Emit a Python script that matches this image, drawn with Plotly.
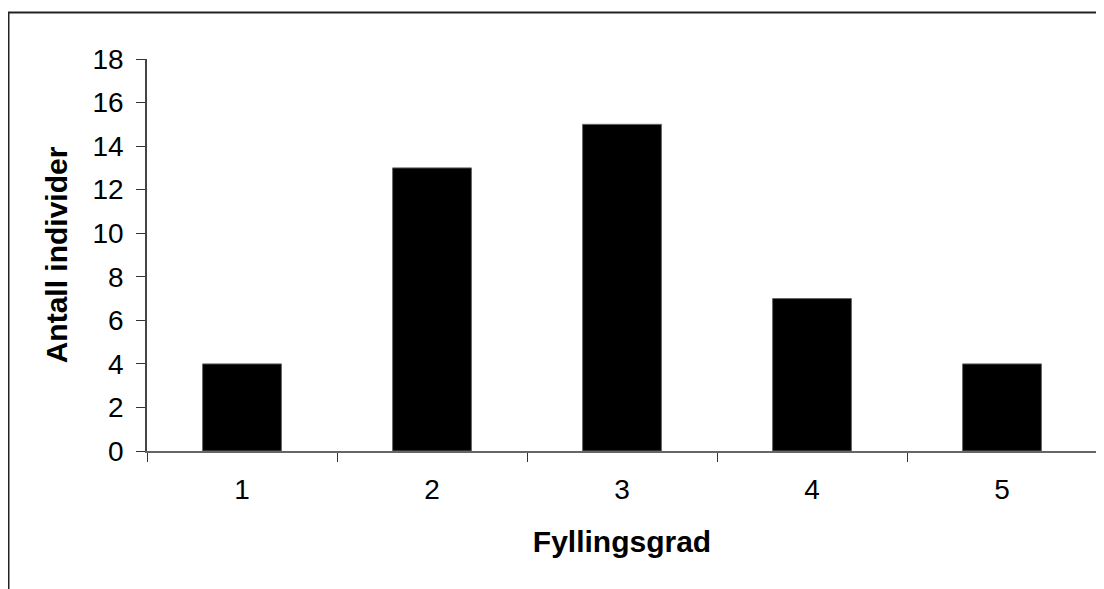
import plotly.graph_objects as go

categories = ["1", "2", "3", "4", "5"]
values = [4, 13, 15, 7, 4]
y_ticks = [0, 2, 4, 6, 8, 10, 12, 14, 16, 18]

fig = go.Figure()
fig.add_trace(go.Bar(
    x=categories, y=values,
    marker=dict(color="black", line=dict(color="#666666", width=1)),
    width=0.415,
))

font = "Arial, Liberation Sans, sans-serif"
fig.update_layout(
    width=1104, height=589,
    margin=dict(l=139, r=15, t=51, b=146),
    paper_bgcolor="white", plot_bgcolor="white",
    showlegend=False,
    font=dict(family=font, size=28, color="black"),
    xaxis=dict(
        type="category", tickson="boundaries", ticks="outside", ticklen=9,
        tickcolor="#333333", tickwidth=1,
        showline=True, linecolor="#666666", linewidth=1.5,
        showgrid=False, zeroline=False,
        tickfont=dict(size=28), ticklabelstandoff=13,
        title=dict(text="<b>Fyllingsgrad</b>", font=dict(size=30), standoff=27),
    ),
    yaxis=dict(
        range=[0, 18], tickvals=y_ticks, ticks="outside", ticklen=9,
        tickcolor="#333333", tickwidth=1,
        showline=True, linecolor="#444444", linewidth=1.5,
        showgrid=False, zeroline=False,
        tickfont=dict(size=28), ticklabelstandoff=7,
        title=dict(text="<b>Antall individer</b>", font=dict(size=30), standoff=16),
    ),
    shapes=[dict(type="rect", xref="paper", yref="paper",
                 x0=(8.5 - 147) / 950, x1=1.3, y0=-0.6, y1=(451 - 12.5) / 392,
                 line=dict(color="#222222", width=2), layer="below")],
)

fig.write_html("out.html")
